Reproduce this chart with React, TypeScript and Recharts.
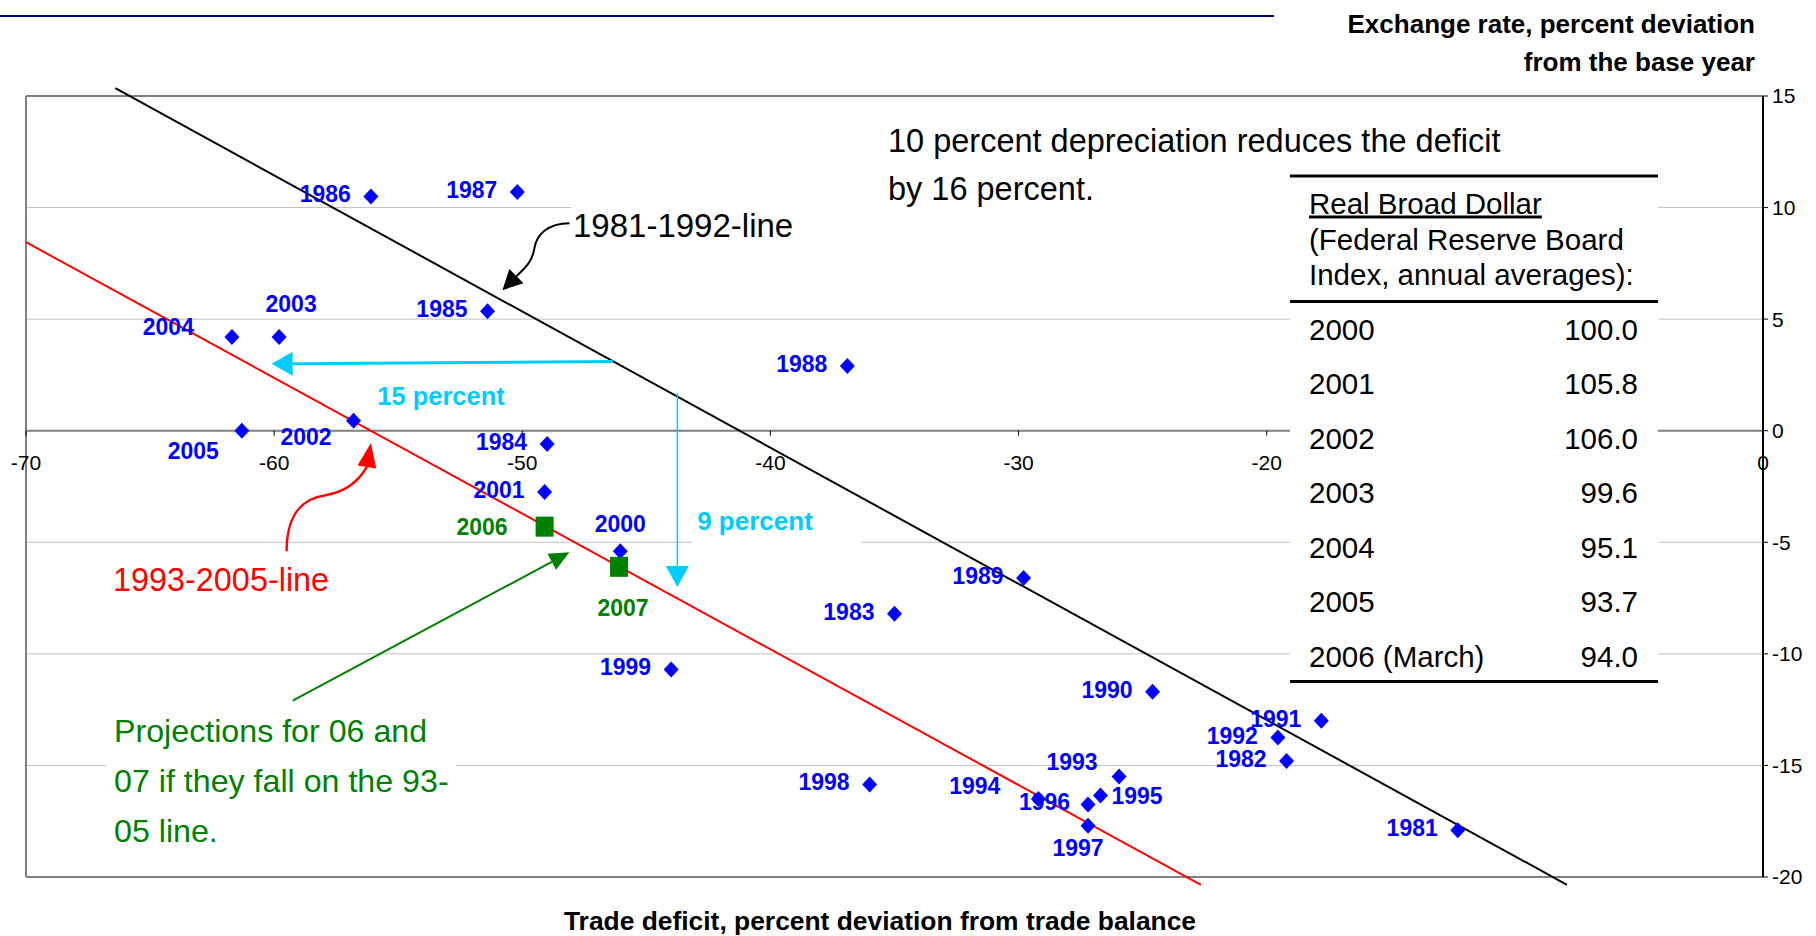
import React from "react";
import { ScatterChart, Scatter, XAxis, YAxis, CartesianGrid, ReferenceLine, ReferenceDot } from "recharts";

const years = [1981, 1982, 1983, 1984, 1985, 1986, 1987, 1988, 1989, 1990, 1991, 1992, 1993, 1994, 1995, 1996, 1997, 1998, 1999, 2000, 2001, 2002, 2003, 2004, 2005];
const tradeDeficit = [-12.3, -19.2, -35.0, -49.0, -51.4, -56.1, -50.2, -36.9, -29.8, -24.6, -17.8, -19.55, -25.95, -29.2, -26.7, -27.2, -27.2, -36.0, -44.0, -46.05, -49.1, -56.8, -59.8, -61.7, -61.3];
const exchangeRate = [-17.9, -14.8, -8.2, -0.6, 5.35, 10.5, 10.7, 2.9, -6.6, -11.7, -13.0, -13.75, -15.5, -16.5, -16.35, -16.75, -17.7, -15.85, -10.7, -5.4, -2.75, 0.45, 4.2, 4.2, 0.0];

const projYears = [2006, 2007];
const projDeficit = [-49.1, -46.1];
const projRate = [-4.3, -6.1];

const xTicks = [-70, -60, -50, -40, -30, -20, -10, 0];
const yTicks = [-20, -15, -10, -5, 0, 5, 10, 15];

// fitted lines, end points
const line8192 = [{ x: -66.4, y: 15.35 }, { x: -7.9, y: -20.35 }];
const line9305 = [{ x: -70, y: 8.45 }, { x: -22.65, y: -20.35 }];

// annotation arrows (start, tip)
const arrow15 = [{ x: -46.35, y: 3.1 }, { x: -60.1, y: 3.0 }];
const arrow9 = [{ x: -43.75, y: 1.7 }, { x: -43.75, y: -7.0 }];
const arrowProj = [{ x: -59.25, y: -12.1 }, { x: -48.1, y: -5.45 }];
const arrowBlack = [{ x: -48.1, y: 9.3 }, { x: -50.8, y: 6.3 }];
const arrowRed = [{ x: -59.5, y: -5.4 }, { x: -56.1, y: -0.55 }];

const tableYears = ["2000", "2001", "2002", "2003", "2004", "2005", "2006 (March)"];
const tableValues = ["100.0", "105.8", "106.0", "99.6", "95.1", "93.7", "94.0"];

const history = years.map((year, i) => ({ year, x: tradeDeficit[i], y: exchangeRate[i] }));
const projections = projYears.map((year, i) => ({ year, x: projDeficit[i], y: projRate[i] }));

// label offsets from the marker: dx, dy, anchor
const labelPos: Record<number, [number, number, string]> = {
  2003: [12, -33, "middle"],
  2004: [-38, -10, "end"],
  2005: [-23, 20, "end"],
  2002: [-22, 16, "end"],
  2000: [0, -27, "middle"],
  1993: [-47, -15, "middle"],
  1994: [-38, -13, "end"],
  1995: [11, 0, "start"],
  1996: [-18, -2, "end"],
  1997: [-10, 22, "middle"],
  2006: [-37, 0, "end"],
  2007: [4, 41, "middle"],
};

const BLUE = "#0000ff";
const GREEN = "#008000";
const CYAN = "#00ccff";
const RED = "#ff0000";

function pointLabel(cx: number, cy: number, year: number, color: string) {
  const [dx, dy, anchor] = labelPos[year] ?? [-20, -2, "end"];
  return (
    <text x={cx + dx} y={cy + dy + 8} textAnchor={anchor as any} fontSize={23} fontWeight="bold" fill={color}>
      {year}
    </text>
  );
}

const Diamond = (p: any) => {
  const { cx, cy, payload } = p;
  return (
    <g>
      <polygon points={`${cx},${cy - 8} ${cx + 7.5},${cy} ${cx},${cy + 8} ${cx - 7.5},${cy}`} fill={BLUE} />
      {pointLabel(cx, cy, payload.year, BLUE)}
    </g>
  );
};

const Square = (p: any) => {
  const { cx, cy, payload } = p;
  return (
    <g>
      <rect x={cx - 9} y={cy - 10} width={18} height={20} fill={GREEN} />
      {pointLabel(cx, cy, payload.year, GREEN)}
    </g>
  );
};

function head(tx: number, ty: number, bx: number, by: number, w: number) {
  const dx = tx - bx;
  const dy = ty - by;
  const len = Math.hypot(dx, dy) || 1;
  const px = (-dy / len) * w;
  const py = (dx / len) * w;
  return `${tx},${ty} ${bx + px},${by + py} ${bx - px},${by - py}`;
}

const straightArrow = (color: string, width: number, len: number, half: number) => (p: any) => {
  const { x1, y1, x2, y2 } = p;
  const d = Math.hypot(x2 - x1, y2 - y1) || 1;
  const bx = x2 - ((x2 - x1) / d) * len;
  const by = y2 - ((y2 - y1) / d) * len;
  return (
    <g>
      <line x1={x1} y1={y1} x2={bx} y2={by} stroke={color} strokeWidth={width} />
      <polygon points={head(x2, y2, bx, by, half)} fill={color} />
    </g>
  );
};

const blackCurve = (p: any) => {
  const { x1: sx, y1: sy, x2: tx, y2: ty } = p;
  const bx = tx + 14;
  const by = ty - 14;
  const d = `M ${sx} ${sy} C ${sx - 22} ${sy} ${sx - 33} ${sy + 12} ${sx - 35} ${sy + 25} C ${sx - 37} ${sy + 37} ${sx - 42} ${sy + 43} ${bx} ${by}`;
  return (
    <g>
      <path d={d} fill="none" stroke="#000" strokeWidth={2} />
      <polygon points={head(tx, ty, bx, by, 10)} fill="#000" />
    </g>
  );
};

const redCurve = (p: any) => {
  const { x1: sx, y1: sy, x2: tx, y2: ty } = p;
  const bx = tx - 4;
  const by = ty + 24;
  const d = `M ${sx} ${sy} C ${sx} ${sy - 27} ${sx + 9} ${sy - 52} ${sx + 39} ${sy - 56} C ${sx + 59} ${sy - 59} ${sx + 72} ${sy - 70} ${bx} ${by}`;
  return (
    <g>
      <path d={d} fill="none" stroke={RED} strokeWidth={2.5} />
      <polygon points={head(tx, ty, bx, by, 9.5)} fill={RED} />
    </g>
  );
};

const xTick = (label: number) => (p: any) => (
  <g>
    <line x1={p.cx} y1={p.cy} x2={p.cx} y2={p.cy + 5} stroke="#000" strokeWidth={1} />
    <text x={p.cx} y={p.cy + 39} textAnchor="middle" fontSize={21} fill="#000">
      {label}
    </text>
  </g>
);

export default function App() {
  return (
    <div style={{ position: "absolute", left: 0, top: 0, width: 1816, height: 936, background: "#fff", fontFamily: "'Liberation Sans', Arial, sans-serif" }}>
      <ScatterChart width={1816} height={936} margin={{ top: 96, right: 0, bottom: 59, left: 26 }}>
        <CartesianGrid horizontal vertical={false} stroke="#c0c0c0" strokeWidth={1} />
        <XAxis type="number" dataKey="x" domain={[-70, 0]} ticks={xTicks} hide allowDataOverflow />
        <YAxis
          type="number"
          dataKey="y"
          orientation="right"
          width={53}
          domain={[-20, 15]}
          ticks={yTicks}
          interval={0}
          allowDataOverflow
          tick={{ fontSize: 21, fill: "#000" }}
          tickSize={5}
          tickMargin={4}
          axisLine={{ stroke: "#000", strokeWidth: 2 }}
          tickLine={{ stroke: "#000" }}
        />
        <ReferenceLine y={15} stroke="#808080" strokeWidth={2} />
        <ReferenceLine y={-20} stroke="#808080" strokeWidth={2} />
        <ReferenceLine x={-70} stroke="#808080" strokeWidth={2} />
        <ReferenceLine y={0} stroke="#808080" strokeWidth={2} />
        {xTicks.map((t) => (
          <ReferenceDot key={t} x={t} y={0} r={0} ifOverflow="visible" shape={xTick(t)} />
        ))}
        <ReferenceLine segment={line8192} stroke="#000" strokeWidth={2} ifOverflow="visible" />
        <ReferenceLine segment={line9305} stroke={RED} strokeWidth={2} ifOverflow="visible" />
        <ReferenceLine segment={arrow15} ifOverflow="visible" shape={straightArrow(CYAN, 3, 21, 12)} />
        <ReferenceLine segment={arrow9} ifOverflow="visible" shape={straightArrow(CYAN, 1.5, 21, 11.5)} />
        <ReferenceLine segment={arrowProj} ifOverflow="visible" shape={straightArrow(GREEN, 2, 20, 9)} />
        <ReferenceLine segment={arrowBlack} ifOverflow="visible" shape={blackCurve} />
        <ReferenceLine segment={arrowRed} ifOverflow="visible" shape={redCurve} />
        <Scatter data={history} shape={Diamond} isAnimationActive={false} />
        <Scatter data={projections} shape={Square} isAnimationActive={false} />
      </ScatterChart>

      <svg width={1816} height={936} style={{ position: "absolute", left: 0, top: 0, pointerEvents: "none" }}>
        <rect x={0} y={15} width={1274} height={2} fill="#000080" />
        <text x={1755} y={32.5} textAnchor="end" fontSize={26} fontWeight="bold" fill="#000">
          Exchange rate, percent deviation
        </text>
        <text x={1755} y={70.5} textAnchor="end" fontSize={26} fontWeight="bold" fill="#000">
          from the base year
        </text>
        <text x={880} y={930} textAnchor="middle" fontSize={26.4} fontWeight="bold" fill="#000">
          Trade deficit, percent deviation from trade balance
        </text>

        {/* white text boxes hiding the grid */}
        <rect x={571} y={199} width={719} height={16} fill="#fff" />
        <rect x={692} y={508} width={169} height={38} fill="#fff" />
        <rect x={106} y={722} width={350} height={135} fill="#fff" />
        <rect x={1290} y={174} width={368} height={510} fill="#fff" />

        <text x={888} y={151.5} fontSize={32.5} fill="#000">10 percent depreciation reduces the deficit</text>
        <text x={888} y={200} fontSize={32.5} fill="#000">by 16 percent.</text>
        <text x={573} y={237} fontSize={33} fill="#000">1981-1992-line</text>
        <text x={113} y={591} fontSize={32.4} fill={RED}>1993-2005-line</text>
        <text x={114} y={742} fontSize={32.2} fill={GREEN}>Projections for 06 and</text>
        <text x={114} y={792} fontSize={32.2} fill={GREEN}>07 if they fall on the 93-</text>
        <text x={114} y={842} fontSize={32.2} fill={GREEN}>05 line.</text>
        <text x={441} y={405} textAnchor="middle" fontSize={25.5} fontWeight="bold" fill={CYAN}>15 percent</text>
        <text x={755} y={530} textAnchor="middle" fontSize={26} fontWeight="bold" fill={CYAN}>9 percent</text>

        {/* index table */}
        <rect x={1290} y={174.5} width={368} height={3} fill="#000" />
        <rect x={1290} y={300} width={368} height={3} fill="#000" />
        <rect x={1290} y={680} width={368} height={3} fill="#000" />
        <text x={1309} y={213.5} fontSize={29.5} fill="#000" textDecoration="underline" style={{ textDecoration: "underline" }}>
          Real Broad Dollar
        </text>
        <text x={1309} y={250} fontSize={29.5} fill="#000">(Federal Reserve Board</text>
        <text x={1309} y={285} fontSize={29.5} fill="#000">Index, annual averages):</text>
        {tableYears.map((y, i) => (
          <g key={y}>
            <text x={1309} y={340 + i * 54.45} fontSize={29.5} fill="#000">{y}</text>
            <text x={1638} y={340 + i * 54.45} fontSize={29.5} fill="#000" textAnchor="end">{tableValues[i]}</text>
          </g>
        ))}
      </svg>
    </div>
  );
}
